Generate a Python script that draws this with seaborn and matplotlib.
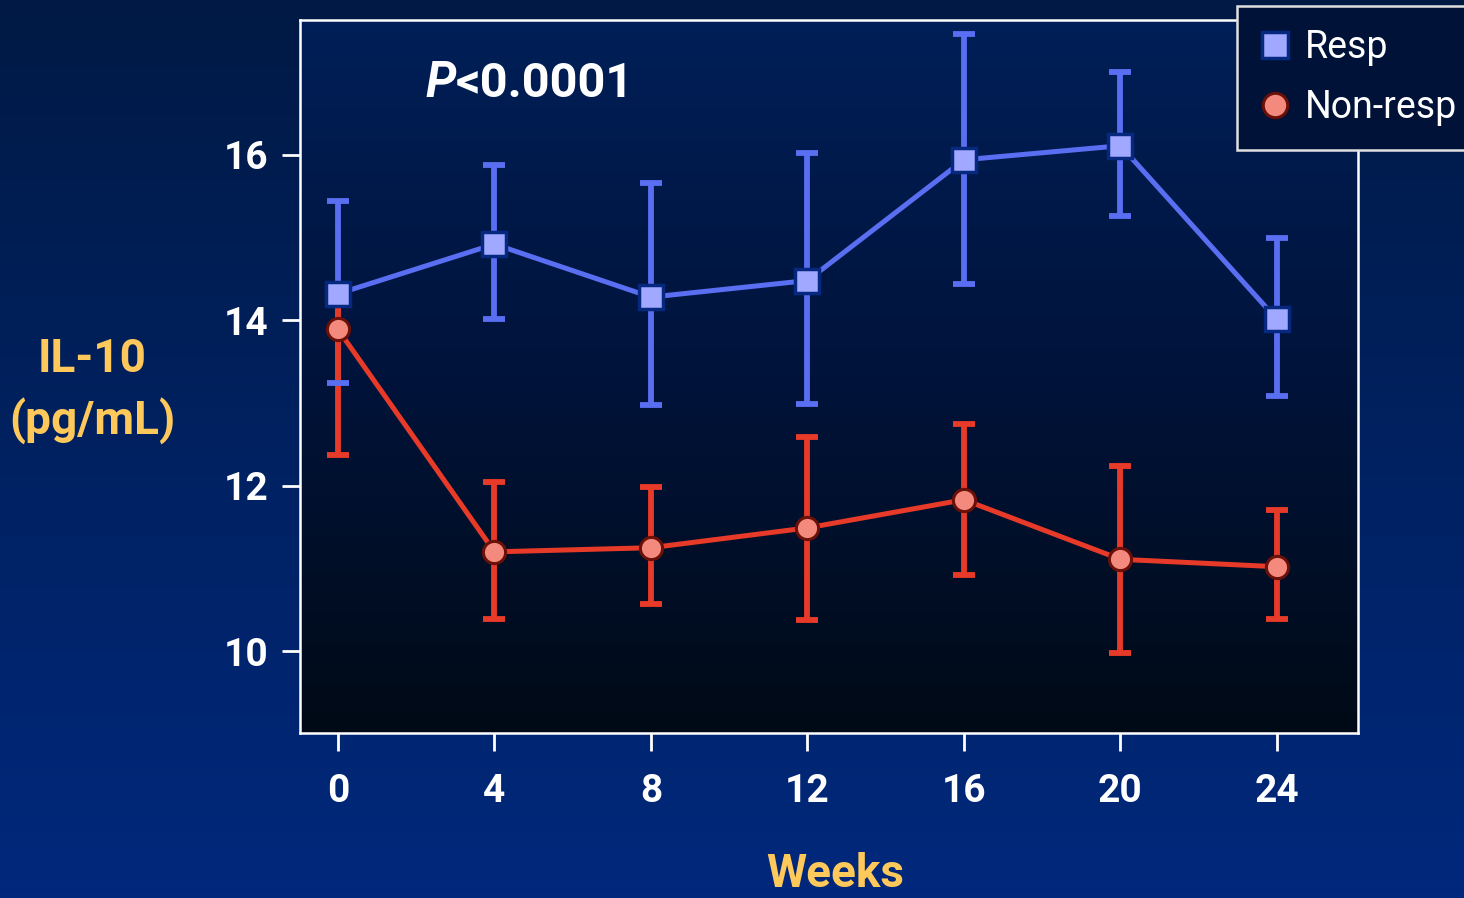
import numpy as np
import pandas as pd
import matplotlib
matplotlib.use("Agg")
import matplotlib.pyplot as plt
import seaborn as sns
from matplotlib.colors import LinearSegmentedColormap

# ---- data ----
weeks = [0, 4, 8, 12, 16, 20, 24]
resp_mean = [14.32, 14.92, 14.28, 14.48, 15.94, 16.11, 14.01]
resp_low = [13.24, 14.02, 12.97, 12.99, 14.44, 15.26, 13.09]
resp_high = [15.44, 15.88, 15.66, 16.02, 17.46, 17.00, 15.00]
nonresp_mean = [13.89, 11.20, 11.25, 11.49, 11.83, 11.11, 11.02]
nonresp_low = [12.37, 10.39, 10.57, 10.38, 10.92, 9.98, 10.39]
nonresp_high = [14.30, 12.04, 11.98, 12.59, 12.75, 12.24, 11.70]
series_labels = ["Resp", "Non-resp"]
xticks = [0, 4, 8, 12, 16, 20, 24]
yticks = [10, 12, 14, 16]
p_text = ["P", "<0.0001"]
ylabel_lines = ["IL-10", "(pg/mL)"]
xlabel = "Weeks"

df = pd.DataFrame({
    "week": weeks * 2,
    "value": resp_mean + nonresp_mean,
    "group": [series_labels[0]] * len(weeks) + [series_labels[1]] * len(weeks),
})

sns.set_theme(style="white")
FONT = ["Roboto", "DejaVu Sans"]
plt.rcParams["font.family"] = FONT

fig = plt.figure(figsize=(14.64, 8.98), dpi=100)

# figure gradient background
bg_ax = fig.add_axes([0, 0, 1, 1], zorder=-10)
bg_cmap = LinearSegmentedColormap.from_list("bg", ["#001a45", "#00287c"])
bg_ax.imshow(np.linspace(0, 1, 256).reshape(-1, 1), cmap=bg_cmap, aspect="auto",
             extent=[0, 1, 0, 1], origin="upper")
bg_ax.set_axis_off()

ax = fig.add_axes([300 / 1464, 1 - 733 / 898, 1058 / 1464, 713 / 898])
ax.set_facecolor("none")
xlim = (-0.97, 26.07)
ylim = (9.01, 17.63)
ax_cmap = LinearSegmentedColormap.from_list("axbg", ["#001f58", "#00133a", "#000a16"])
ax.imshow(np.linspace(0, 1, 256).reshape(-1, 1), cmap=ax_cmap, aspect="auto",
          extent=[xlim[0], xlim[1], ylim[0], ylim[1]], origin="upper", zorder=0)

BLUE = "#5a6ef2"
RED = "#e83a28"

# error bars
r_lo = np.array(resp_mean) - np.array(resp_low)
r_hi = np.array(resp_high) - np.array(resp_mean)
n_lo = np.array(nonresp_mean) - np.array(nonresp_low)
n_hi = np.array(nonresp_high) - np.array(nonresp_mean)

eb_b = ax.errorbar(weeks, resp_mean, yerr=[r_lo, r_hi], fmt="none", ecolor=BLUE,
                   elinewidth=4.2, capsize=8, capthick=4.2, zorder=2)
eb_r = ax.errorbar(weeks, nonresp_mean, yerr=[n_lo, n_hi], fmt="none", ecolor=RED,
                   elinewidth=4.2, capsize=8, capthick=4.2, zorder=3)
for cl in eb_b[1]:
    cl.set_zorder(3.5)

sub_r = df[df.group == series_labels[0]]
sub_n = df[df.group == series_labels[1]]
sns.lineplot(data=sub_r, x="week", y="value", ax=ax, color=BLUE, lw=3.6,
             marker="s", markersize=17, markerfacecolor="#a0a8ff",
             markeredgecolor="#06287e", markeredgewidth=2.5, label=series_labels[0],
             zorder=4)
sns.lineplot(data=sub_n, x="week", y="value", ax=ax, color=RED, lw=3.6,
             marker="o", markersize=16, markerfacecolor="#f48a7e",
             markeredgecolor="#6a1008", markeredgewidth=2.2, label=series_labels[1],
             zorder=5)

ax.set_xlim(xlim)
ax.set_ylim(ylim)
ax.set_xticks(xticks)
ax.set_yticks(yticks)
ax.set_xlabel("")
ax.set_ylabel("")
ax.tick_params(axis="both", direction="out", length=13, width=2, color="white",
               labelcolor="white", labelsize=28, bottom=True, left=True)
ax.tick_params(axis="x", pad=16)
ax.tick_params(axis="y", pad=10)
for lab in ax.get_xticklabels() + ax.get_yticklabels():
    lab.set_fontweight("bold")
    lab.set_family(FONT)
for sp in ax.spines.values():
    sp.set_visible(True)
    sp.set_color("white")
    sp.set_linewidth(1.8)
ax.grid(False)

# legend
leg = ax.legend(loc="upper left", bbox_to_anchor=(1237 / 1464, 1 - 6 / 898),
                bbox_transform=fig.transFigure, frameon=True, fontsize=27,
                handlelength=0.8, handletextpad=0.4, borderpad=0.62,
                labelspacing=0.62, borderaxespad=0, fancybox=False, markerscale=1.1)
leg.get_frame().set_facecolor("#001238")
leg.get_frame().set_edgecolor("#e0e0e0")
leg.get_frame().set_linewidth(1.8)
leg.get_frame().set_alpha(1)
for t in leg.get_texts():
    t.set_color("white")
for h in leg.legend_handles:
    h.set_linestyle("none")

# P value annotation
t1 = fig.text(425 / 1464, 1 - 97 / 898, p_text[0], color="white", fontsize=35,
              fontweight="bold", fontstyle="italic", ha="left", va="baseline",
              family=FONT)
fig.canvas.draw()
ax.annotate(p_text[1], xy=(1, 0), xycoords=t1, ha="left", va="bottom",
            color="white", fontsize=35, fontweight="bold", family=FONT,
            annotation_clip=False)

# y label (two lines)
fig.text(92 / 1464, 1 - 372 / 898, ylabel_lines[0], color="#ffc85a", fontsize=33,
         fontweight="bold", ha="center", va="baseline", family=FONT)
fig.text(92 / 1464, 1 - 435 / 898, ylabel_lines[1], color="#ffc85a", fontsize=33,
         fontweight="bold", ha="center", va="baseline", family=FONT)
# x label
fig.text(835 / 1464, 1 - 887 / 898, xlabel, color="#ffc85a", fontsize=33,
         fontweight="bold", ha="center", va="baseline", family=FONT)

fig.savefig("out.png", dpi=100)
